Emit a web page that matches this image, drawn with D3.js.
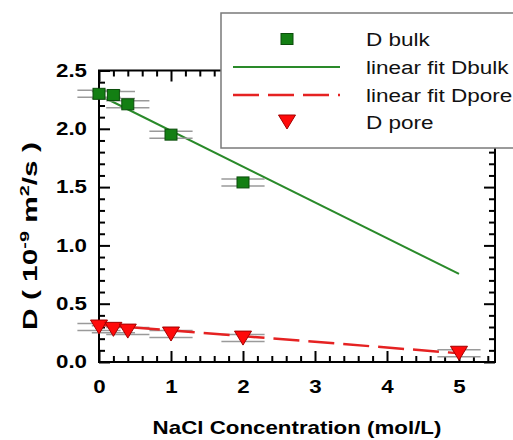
<!DOCTYPE html>
<html>
<head>
<meta charset="utf-8">
<script src="https://cdn.jsdelivr.net/npm/d3@7"></script>
<style>
  body { margin: 0; background: #fff; }
  text { font-family: "Liberation Sans", Arial, sans-serif; }
</style>
</head>
<body>
<script>
// data
const bulkConc = [0, 0.2, 0.4, 1, 2]
const bulkD = [2.30, 2.29, 2.21, 1.95, 1.54]
const poreConc = [0, 0.2, 0.4, 1, 2, 5]
const poreD = [0.30, 0.28, 0.265, 0.24, 0.205, 0.075]
const concErr = 0.3
const fitConc = [0, 5]
const fitBulk = [2.29, 0.755]
const fitPore = [0.32, 0.075]
const xTicks = [0, 1, 2, 3, 4, 5]
const yTicks = [0, 0.5, 1.0, 1.5, 2.0, 2.5]
const legendNames = ["D bulk", "linear fit Dbulk", "linear fit Dpore", "D pore"]

const W = 513, H = 440
const plot = { left: 99, right: 495, top: 70.5, bottom: 362 }
const SX = 1.24  // text in the picture is drawn wide

const svg = d3.select("body").append("svg")
    .attr("width", W)
    .attr("height", H)

svg.append("rect").attr("width", W).attr("height", H).attr("fill", "#fff")

let x = d3.scaleLinear().domain([0, 5.5]).range([plot.left, plot.right])
let y = d3.scaleLinear().domain([0, 2.5]).range([plot.bottom, plot.top])

const minorX = d3.range(0, 5.5001, 0.2).filter(v => Math.abs(v - Math.round(v)) > 1e-6)
const minorY = d3.range(0, 2.5001, 0.1).filter(v => Math.abs(v * 2 - Math.round(v * 2)) > 1e-6)

//------------------------------------------------------------------------------
// axes with inward ticks on four sides

function styleAxis(g) {
    g.select(".domain").remove()
    g.selectAll(".tick line").attr("stroke", "#000").attr("stroke-width", 2)
}

const axes = svg.append("g")

axes.append("g")
    .attr("transform", "translate(0," + plot.bottom + ")")
    .call(d3.axisBottom(x).tickValues(minorX).tickSize(-6).tickFormat(""))
    .call(styleAxis)
axes.append("g")
    .attr("transform", "translate(0," + plot.bottom + ")")
    .call(d3.axisBottom(x).tickValues(xTicks).tickSize(-11).tickPadding(18).tickFormat(d3.format("d")))
    .call(styleAxis)
    .call(g => g.selectAll("text")
        .attr("fill", "#000")
        .style("font-size", "18px")
        .style("font-weight", "bold")
        .attr("transform", "scale(" + SX + ",1)"))

axes.append("g")
    .attr("transform", "translate(0," + plot.top + ")")
    .call(d3.axisTop(x).tickValues(minorX).tickSize(-6).tickFormat(""))
    .call(styleAxis)
axes.append("g")
    .attr("transform", "translate(0," + plot.top + ")")
    .call(d3.axisTop(x).tickValues(xTicks).tickSize(-11).tickFormat(""))
    .call(styleAxis)

axes.append("g")
    .attr("transform", "translate(" + plot.left + ",0)")
    .call(d3.axisLeft(y).tickValues(minorY).tickSize(-6).tickFormat(""))
    .call(styleAxis)
axes.append("g")
    .attr("transform", "translate(" + plot.left + ",0)")
    .call(d3.axisLeft(y).tickValues(yTicks).tickSize(-11).tickFormat(d3.format(".1f")))
    .call(styleAxis)
    .call(g => g.selectAll("text")
        .attr("fill", "#000")
        .attr("x", -12 / SX)
        .style("font-size", "18px")
        .style("font-weight", "bold")
        .attr("transform", "scale(" + SX + ",1)"))

axes.append("g")
    .attr("transform", "translate(" + plot.right + ",0)")
    .call(d3.axisRight(y).tickValues(minorY).tickSize(-6).tickFormat(""))
    .call(styleAxis)
axes.append("g")
    .attr("transform", "translate(" + plot.right + ",0)")
    .call(d3.axisRight(y).tickValues(yTicks).tickSize(-11).tickFormat(""))
    .call(styleAxis)

svg.append("rect")
    .attr("x", plot.left)
    .attr("y", plot.top)
    .attr("width", plot.right - plot.left)
    .attr("height", plot.bottom - plot.top)
    .attr("fill", "none")
    .attr("stroke", "#000")
    .attr("stroke-width", 2)

//------------------------------------------------------------------------------
// axis titles

svg.append("text")
    .attr("text-anchor", "middle")
    .attr("transform", "translate(297,434) scale(" + SX + ",1)")
    .style("font-size", "18px")
    .style("font-weight", "bold")
    .text("NaCl Concentration (mol/L)")

const yTitle = svg.append("text")
    .attr("text-anchor", "middle")
    .style("font-size", "18px")
    .style("font-weight", "bold")
yTitle.append("tspan").text("D ( 10")
yTitle.append("tspan").attr("dy", -7).style("font-size", "12px").text("-9")
yTitle.append("tspan").attr("dy", 7).text(" m")
yTitle.append("tspan").attr("dy", -7).style("font-size", "12px").text("2")
yTitle.append("tspan").attr("dy", 7).text("/s )")
const yLen = yTitle.node().getBBox().width
yTitle.attr("transform", "translate(37,236) rotate(-90) scale(" + (188 / yLen) + ",1.1)")

//------------------------------------------------------------------------------
// fits

const line = d3.line().x(d => x(d[0])).y(d => y(d[1]))

svg.append("path")
    .datum(fitConc.map((c, i) => [c, fitBulk[i]]))
    .attr("d", line)
    .attr("fill", "none")
    .attr("stroke", "#2a8a2a")
    .attr("stroke-width", 2)

//------------------------------------------------------------------------------
// error bars (drawn as two thin grey lines)

function errBars(concs, vals) {
    const g = svg.append("g")
    concs.forEach((c, i) => {
        [-3.5, 3.5].forEach(off => {
            g.append("line")
                .attr("x1", x(c - concErr))
                .attr("x2", x(c + concErr))
                .attr("y1", y(vals[i]) + off)
                .attr("y2", y(vals[i]) + off)
                .attr("stroke", "#9a9a9a")
                .attr("stroke-width", 1.5)
        })
    })
}
errBars(bulkConc, bulkD)
errBars(poreConc, poreD)

svg.append("path")
    .datum(fitConc.map((c, i) => [c, fitPore[i]]))
    .attr("d", line)
    .attr("fill", "none")
    .attr("stroke", "#e52222")
    .attr("stroke-width", 2.5)
    .attr("stroke-dasharray", "26,9")

//------------------------------------------------------------------------------
// markers

const triangle = "M-8.5,-7L8.5,-7L0,7Z"

svg.append("g")
    .selectAll("rect")
    .data(bulkConc)
    .join("rect")
    .attr("x", d => x(d) - 6)
    .attr("y", (d, i) => y(bulkD[i]) - 5.5)
    .attr("width", 12)
    .attr("height", 11)
    .attr("fill", "#137f13")
    .attr("stroke", "#0b4d0b")
    .attr("stroke-width", 1)

svg.append("g")
    .selectAll("path")
    .data(poreConc)
    .join("path")
    .attr("d", triangle)
    .attr("transform", (d, i) => "translate(" + x(d) + "," + y(poreD[i]) + ")")
    .attr("fill", "#ff0a0a")
    .attr("stroke", "#a30000")
    .attr("stroke-width", 1)

//------------------------------------------------------------------------------
// legend

const legend = svg.append("g")
legend.append("rect")
    .attr("x", 221)
    .attr("y", 13)
    .attr("width", 320)
    .attr("height", 135)
    .attr("fill", "#fff")
    .attr("stroke", "#7a7a7a")
    .attr("stroke-width", 1.5)

const rowY = [39, 67, 95, 122]
legend.append("rect")
    .attr("x", 281).attr("y", rowY[0] - 5.5)
    .attr("width", 12).attr("height", 11)
    .attr("fill", "#137f13").attr("stroke", "#0b4d0b")
legend.append("line")
    .attr("x1", 233).attr("x2", 340)
    .attr("y1", rowY[1]).attr("y2", rowY[1])
    .attr("stroke", "#2a8a2a").attr("stroke-width", 2)
legend.append("line")
    .attr("x1", 233).attr("x2", 340)
    .attr("y1", rowY[2]).attr("y2", rowY[2])
    .attr("stroke", "#e52222").attr("stroke-width", 2.5)
    .attr("stroke-dasharray", "26,9")
legend.append("path")
    .attr("d", triangle)
    .attr("transform", "translate(287," + rowY[3] + ")")
    .attr("fill", "#ff0a0a").attr("stroke", "#a30000")

legend.selectAll("text.name")
    .data(legendNames)
    .join("text")
    .attr("class", "name")
    .attr("transform", (d, i) => "translate(366," + (rowY[i] + 6.5) + ") scale(1.25,1)")
    .style("font-size", "18px")
    .attr("fill", "#111")
    .text(d => d)
</script>
</body>
</html>
